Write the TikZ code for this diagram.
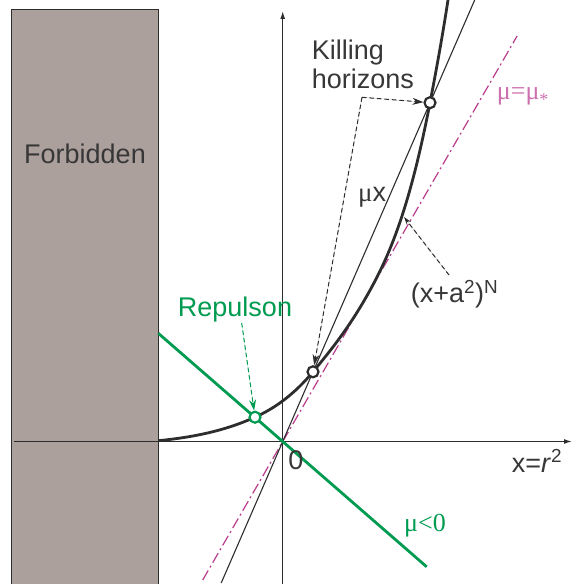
\documentclass[tikz,border=0pt]{standalone}
\usepackage{fontspec}
\setmainfont{Liberation Sans}
\newfontfamily\serif{Liberation Serif}
\usetikzlibrary{arrows.meta}
\definecolor{dark}{RGB}{45,45,45}
\definecolor{txt}{RGB}{55,55,55}
\definecolor{grn}{RGB}{0,155,80}
\definecolor{mag}{RGB}{185,60,140}
\definecolor{pinktxt}{RGB}{205,110,175}
\definecolor{forb}{RGB}{172,160,157}
\tikzset{
  axisline/.style={line width=1.3pt, draw=dark, -{Latex[length=8pt,width=5pt]}},
  bigcurve/.style={line width=2.8pt, draw=dark},
  thinline/.style={line width=1.1pt, draw=dark},
  greenline/.style={line width=2.8pt, draw=grn},
  critline/.style={line width=1.2pt, draw=mag, dash pattern=on 11pt off 3.5pt on 2pt off 3.5pt},
  hcirc/.style={circle, draw=dark, fill=white, line width=2.2pt, minimum size=11pt, inner sep=0pt},
  rcirc/.style={hcirc, draw=grn},
  leader/.style={line width=1pt, dash pattern=on 4.5pt off 3pt, -{Stealth[length=11pt,width=7pt]}},
  lbl/.style={font=\fontsize{27}{29}\selectfont, inner sep=0pt, text=txt},
}
\begin{document}
\begin{tikzpicture}[x=1pt,y=-1pt]
\useasboundingbox (0,0) rectangle (588,583);
\clip (0,0) rectangle (588,583);
% forbidden region
\filldraw[fill=forb, draw=dark, line width=1pt] (11,10) rectangle (158.3,600);
\node[lbl, anchor=base] (forbtext) at (85,163) {Forbidden};
% origin and key points
\coordinate (O) at (282.7,441.5);
\coordinate (K1) at (430,102.7);
\coordinate (K2) at (313,371.8);
\coordinate (R) at (255,417.2);
\coordinate (T) at (365,299.1);
% axes
\coordinate (xs) at (14,441.5);
\coordinate (xe) at (572,441.5);
\coordinate (ys) at (282.7,590);
\coordinate (ye) at (282.7,11);
\draw[axisline] (xs) -- (xe);
\draw[axisline] (ys) -- (ye);
% critical line mu = mu*
\coordinate (ms) at (202.7,580);
\coordinate (me) at (517.1,36);
\draw[critline] (ms) -- (me);
% mu x line
\coordinate (ls) at (221.2,583);
\coordinate (le) at (474.7,0);
\draw[thinline] (ls) -- (le);
% green line mu<0
\coordinate (gs) at (158.3,333.3);
\coordinate (ge) at (426.7,566.8);
\draw[greenline] (gs) -- (ge);
% curve (x+a^2)^N
\draw[bigcurve] (158.3,440.7)
  .. controls (190.5,437.5) and (222.8,431.7) .. (R)
  .. controls (274.3,408.5) and (293.7,395.0) .. (K2)
  .. controls (330.3,351.0) and (347.7,329.1) .. (T)
  .. controls (386.7,261.6) and (408.3,215.4) .. (K1)
  .. controls (436,71.5) and (442,39) .. (448,0)
  -- (449.5,-10);
% circles
\node[hcirc] (k1) at (K1) {};
\node[hcirc] (k2) at (K2) {};
\node[rcirc] (rp) at (R) {};
% labels
\node[lbl, anchor=north west, align=left] (kill) at (311.7,40) {Killing\\horizons};
\coordinate (kc) at (362,97.3);
\draw[leader, draw=dark, fill=dark] (kc) -- (k1);
\draw[leader, draw=dark, fill=dark] (kc) -- (k2);
\node[lbl, anchor=base west] (mux) at (358,201.5) {{\serif μ}x};
\node[lbl, anchor=base west] (pow) at (410.7,302.3) {(x+a\textsuperscript{2})\textsuperscript{N}};
\coordinate (pl) at (449,275);
\coordinate (pc) at (404,217);
\draw[leader, draw=dark, fill=dark, -{Stealth[length=8pt,width=5pt]}] (pl) -- (pc);
\node[lbl, anchor=base, text=grn] (rep) at (235,316) {Repulson};
\coordinate (rl) at (241.7,323);
\draw[leader, draw=grn, fill=grn] (rl) -- (rp);
\node[lbl, anchor=base] (zero) at (296,469.3) {0};
\node[lbl, anchor=base west] (xr) at (511.7,472) {x=\textit{r}\textsuperscript{2}};
\node[lbl, anchor=base west, text=grn, font=\fontsize{26}{28}\selectfont\serif] (mul) at (404,531.7) {μ<0};
\node[lbl, anchor=base west, text=pinktxt, font=\fontsize{26}{28}\selectfont\serif] (mus) at (496.7,99.3) {μ=μ\raisebox{-6pt}{\fontsize{18}{18}\selectfont *}};
\end{tikzpicture}
\end{document}
